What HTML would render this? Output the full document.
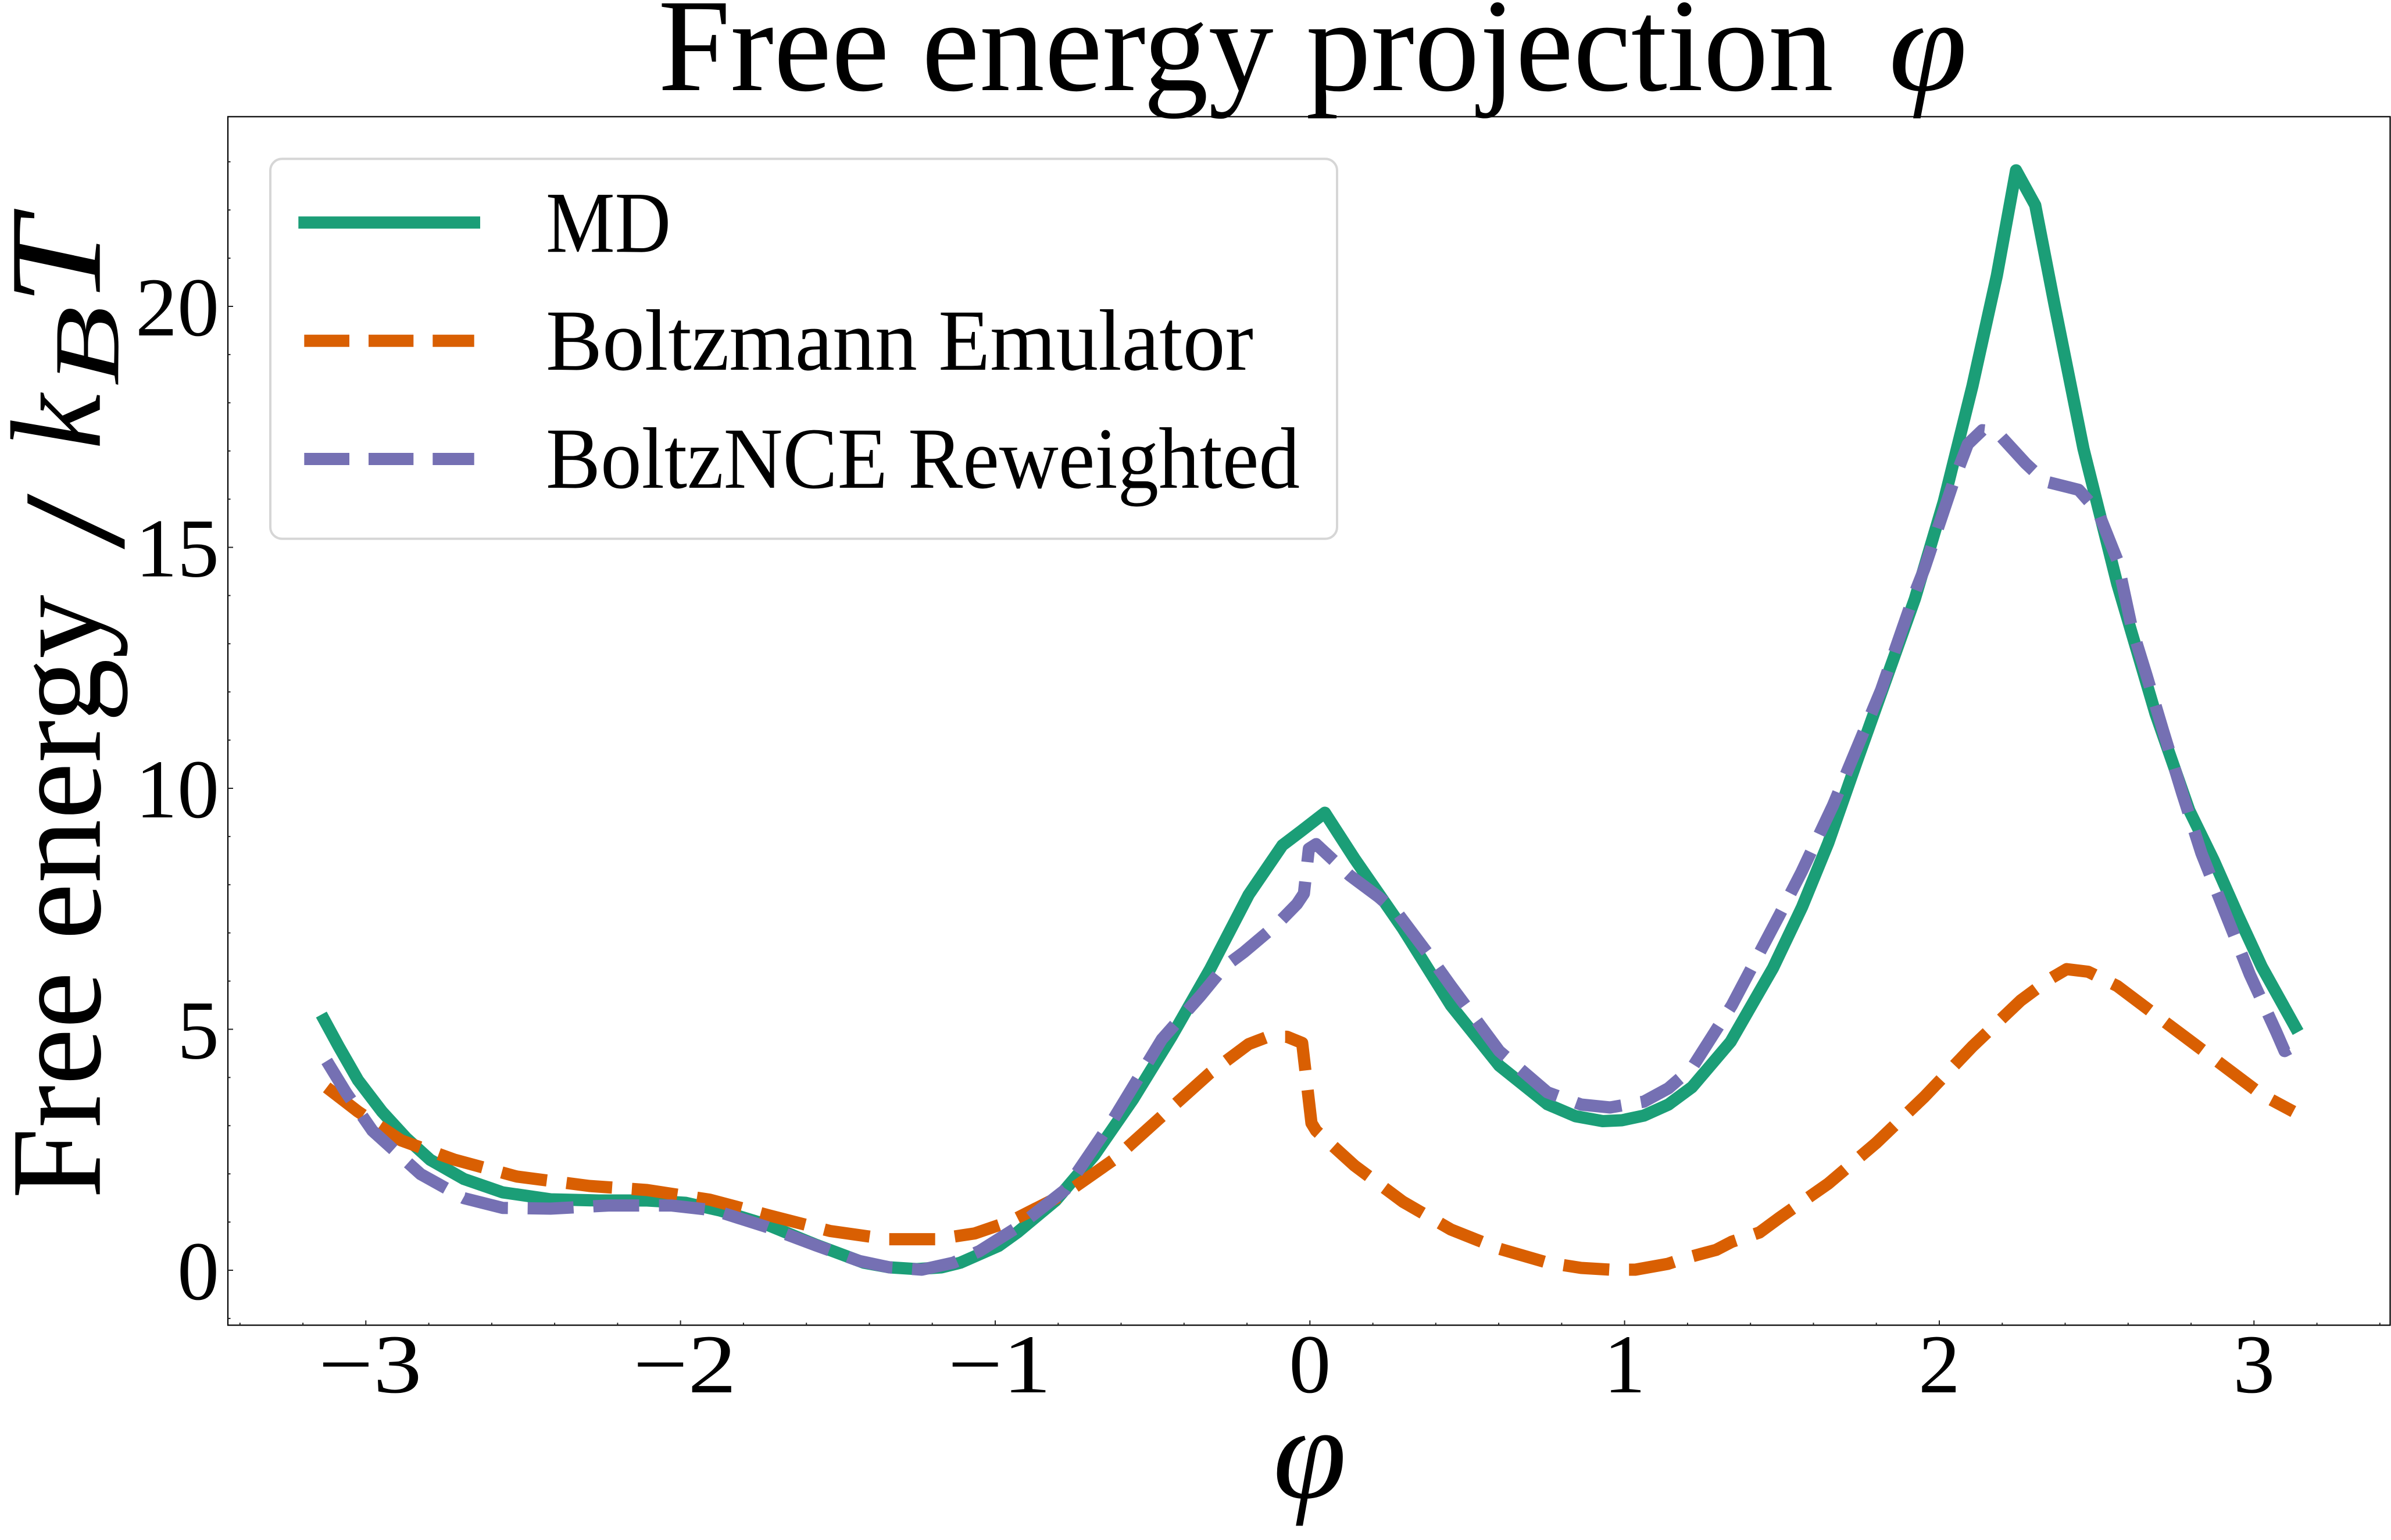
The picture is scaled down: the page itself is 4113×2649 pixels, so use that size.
<!DOCTYPE html>
<html>
<head>
<meta charset="utf-8">
<style>
  html, body { margin: 0; padding: 0; background: #ffffff; }
  svg { display: block; }
  text { font-family: "Liberation Serif", serif; fill: #000000; }
</style>
</head>
<body>
<svg xmlns="http://www.w3.org/2000/svg" width="4113" height="2649" viewBox="0 0 4113 2649">
  <rect x="0" y="0" width="4113" height="2649" fill="#ffffff"/>

  <!-- Title -->
  <text x="1132" y="155" font-size="228" textLength="2022" lengthAdjust="spacingAndGlyphs">Free energy projection</text>
  <text x="3249" y="155" font-size="228" font-style="italic" textLength="135" lengthAdjust="spacingAndGlyphs">φ</text>

  <defs>
    <clipPath id="axclip">
      <rect x="392" y="200.7" width="3720" height="2078.8"/>
    </clipPath>
  </defs>

  <!-- Curves -->
  <g clip-path="url(#axclip)" fill="none" stroke-linejoin="round">
    <!-- MD (green solid) -->
    <path stroke="#1b9e77" stroke-width="21" stroke-linecap="square"
      d="M557.8,1754.4 L582.6,1800 L615.8,1858 L657,1912 L698.7,1957.5 L740,1995 L798,2028 L864.5,2051 L947.4,2063 L1030,2065 L1113,2065 L1179.5,2069 L1237.6,2082 L1320.5,2107 L1403,2141 L1486,2172 L1530,2180 L1577,2183 L1620,2180 L1652,2172 L1718,2143 L1750,2120 L1816,2065 L1882.6,1987 L1949,1891 L2015.3,1783 L2081.6,1667 L2148,1539 L2206,1454 L2239,1429 L2279,1398 L2330,1477 L2413,1597 L2496,1729.5 L2579,1833 L2662,1899.5 L2710,1920 L2757,1928.5 L2790,1927 L2827.7,1919 L2870,1900 L2910.6,1870 L2977,1792 L3050,1665 L3100,1560 L3145,1450 L3194,1310 L3244,1170 L3294,1030 L3343.6,863 L3393,664 L3435,474 L3468,293 L3501,353 L3534,523 L3584,772 L3642,1004 L3708,1228 L3766,1394 L3808,1480 L3850,1575 L3890.7,1663 L3948,1766"/>
    <!-- Boltzmann Emulator (orange dashed) -->
    <path stroke="#d95f02" stroke-width="21" stroke-linecap="butt" stroke-dasharray="79 34"
      d="M562,1870.5 L615.8,1912 L690,1961.6 L781.6,1994.8 L889,2023.8 L1013.7,2040 L1113,2047 L1221,2063.6 L1320.5,2090 L1428,2117.5 L1527.7,2131.6 L1610.6,2131.6 L1677,2121.6 L1740,2100 L1833,2052.8 L1915.8,1994.8 L1998.7,1920 L2081.6,1845.6 L2148,1796 L2181,1783.4 L2214,1783.4 L2240,1794 L2256,1932 L2264,1945 L2330,2005 L2413,2067 L2496,2115 L2579,2148 L2662,2172 L2720,2181 L2769.7,2184 L2813,2184 L2869,2174 L2896,2165 L2952,2150 L2979,2136 L3026.7,2120 L3062,2094 L3145,2036 L3227.5,1966 L3310,1887 L3393,1800 L3476,1721 L3526,1684 L3555,1667 L3592,1671.5 L3642,1696 L3725,1758.5 L3808,1820.7 L3890.7,1883 L3945,1912"/>
    <!-- BoltzNCE Reweighted (purple dashed) -->
    <path stroke="#7570b3" stroke-width="21" stroke-linecap="butt" stroke-dasharray="79 34"
      d="M562,1825 L595,1879 L640.7,1945 L723.6,2019.7 L798,2061 L864.5,2077.7 L947,2079 L1047,2073.6 L1154.6,2073.6 L1229,2082 L1320.5,2111 L1403,2142 L1478,2169 L1530,2180 L1585.7,2184 L1640,2172 L1685,2152 L1750,2111 L1833,2046 L1915.8,1924 L1998.7,1787.6 L2065,1713 L2106,1663 L2139.6,1638 L2197.7,1589 L2231,1555 L2243,1537 L2251.5,1460 L2264,1452 L2322,1506 L2371.7,1543 L2405,1572 L2454.6,1638 L2496,1696 L2579,1808 L2662,1879 L2720,1900 L2769.7,1905 L2827.7,1895 L2870,1872 L2910.6,1837 L2979,1729.5 L3062,1572 L3099,1500 L3153,1385.5 L3236,1186.5 L3293.8,1020 L3310,979 L3360,830 L3385,764 L3410,740 L3435,743 L3484.5,797 L3517.6,828 L3575.7,842.5 L3609,880 L3642,962.7 L3667,1079 L3692,1160 L3721,1257 L3754,1365 L3787,1468 L3828.5,1572 L3870,1676 L3915.6,1775 L3930,1808 L3947,1799"/>
  </g>

  <!-- Axes spines -->
  <rect x="392" y="200.7" width="3719.5" height="2078.8" fill="none" stroke="#000000" stroke-width="2.2"/>

  <!-- Y ticks -->
  <g stroke="#222222" stroke-width="2">
    <!-- major -->
    <line x1="392" y1="2185" x2="401" y2="2185"/>
    <line x1="392" y1="1770.5" x2="401" y2="1770.5"/>
    <line x1="392" y1="1356" x2="401" y2="1356"/>
    <line x1="392" y1="941.5" x2="401" y2="941.5"/>
    <line x1="392" y1="527" x2="401" y2="527"/>
    <!-- minor -->
    <line x1="392" y1="2267.9" x2="396.5" y2="2267.9"/>
    <line x1="392" y1="2102.1" x2="396.5" y2="2102.1"/>
    <line x1="392" y1="2019.2" x2="396.5" y2="2019.2"/>
    <line x1="392" y1="1936.3" x2="396.5" y2="1936.3"/>
    <line x1="392" y1="1853.4" x2="396.5" y2="1853.4"/>
    <line x1="392" y1="1687.6" x2="396.5" y2="1687.6"/>
    <line x1="392" y1="1604.7" x2="396.5" y2="1604.7"/>
    <line x1="392" y1="1521.8" x2="396.5" y2="1521.8"/>
    <line x1="392" y1="1438.9" x2="396.5" y2="1438.9"/>
    <line x1="392" y1="1273.1" x2="396.5" y2="1273.1"/>
    <line x1="392" y1="1190.2" x2="396.5" y2="1190.2"/>
    <line x1="392" y1="1107.3" x2="396.5" y2="1107.3"/>
    <line x1="392" y1="1024.4" x2="396.5" y2="1024.4"/>
    <line x1="392" y1="858.6" x2="396.5" y2="858.6"/>
    <line x1="392" y1="775.7" x2="396.5" y2="775.7"/>
    <line x1="392" y1="692.8" x2="396.5" y2="692.8"/>
    <line x1="392" y1="609.9" x2="396.5" y2="609.9"/>
    <line x1="392" y1="444.1" x2="396.5" y2="444.1"/>
    <line x1="392" y1="361.2" x2="396.5" y2="361.2"/>
    <line x1="392" y1="278.3" x2="396.5" y2="278.3"/>
  </g>

  <!-- X ticks -->
  <g stroke="#222222" stroke-width="2">
    <!-- major -->
    <line x1="629.3" y1="2279.5" x2="629.3" y2="2271.3"/>
    <line x1="1170.6" y1="2279.5" x2="1170.6" y2="2271.3"/>
    <line x1="1712" y1="2279.5" x2="1712" y2="2271.3"/>
    <line x1="2253.3" y1="2279.5" x2="2253.3" y2="2271.3"/>
    <line x1="2794.6" y1="2279.5" x2="2794.6" y2="2271.3"/>
    <line x1="3336" y1="2279.5" x2="3336" y2="2271.3"/>
    <line x1="3877.3" y1="2279.5" x2="3877.3" y2="2271.3"/>
    <!-- minor -->
    <line x1="412.8" y1="2279.5" x2="412.8" y2="2275.3"/>
    <line x1="521.1" y1="2279.5" x2="521.1" y2="2275.3"/>
    <line x1="737.6" y1="2279.5" x2="737.6" y2="2275.3"/>
    <line x1="845.9" y1="2279.5" x2="845.9" y2="2275.3"/>
    <line x1="954.1" y1="2279.5" x2="954.1" y2="2275.3"/>
    <line x1="1062.4" y1="2279.5" x2="1062.4" y2="2275.3"/>
    <line x1="1278.9" y1="2279.5" x2="1278.9" y2="2275.3"/>
    <line x1="1387.2" y1="2279.5" x2="1387.2" y2="2275.3"/>
    <line x1="1495.5" y1="2279.5" x2="1495.5" y2="2275.3"/>
    <line x1="1603.7" y1="2279.5" x2="1603.7" y2="2275.3"/>
    <line x1="1820.3" y1="2279.5" x2="1820.3" y2="2275.3"/>
    <line x1="1928.5" y1="2279.5" x2="1928.5" y2="2275.3"/>
    <line x1="2036.8" y1="2279.5" x2="2036.8" y2="2275.3"/>
    <line x1="2145.1" y1="2279.5" x2="2145.1" y2="2275.3"/>
    <line x1="2361.6" y1="2279.5" x2="2361.6" y2="2275.3"/>
    <line x1="2469.8" y1="2279.5" x2="2469.8" y2="2275.3"/>
    <line x1="2578.1" y1="2279.5" x2="2578.1" y2="2275.3"/>
    <line x1="2686.4" y1="2279.5" x2="2686.4" y2="2275.3"/>
    <line x1="2902.9" y1="2279.5" x2="2902.9" y2="2275.3"/>
    <line x1="3011.2" y1="2279.5" x2="3011.2" y2="2275.3"/>
    <line x1="3119.5" y1="2279.5" x2="3119.5" y2="2275.3"/>
    <line x1="3227.7" y1="2279.5" x2="3227.7" y2="2275.3"/>
    <line x1="3444.3" y1="2279.5" x2="3444.3" y2="2275.3"/>
    <line x1="3552.5" y1="2279.5" x2="3552.5" y2="2275.3"/>
    <line x1="3660.8" y1="2279.5" x2="3660.8" y2="2275.3"/>
    <line x1="3769.1" y1="2279.5" x2="3769.1" y2="2275.3"/>
    <line x1="3985.6" y1="2279.5" x2="3985.6" y2="2275.3"/>
    <line x1="4093.8" y1="2279.5" x2="4093.8" y2="2275.3"/>
  </g>

  <!-- Y tick labels -->
  <g font-size="144" text-anchor="end">
    <text x="377" y="2235">0</text>
    <text x="377" y="1820.5">5</text>
    <text x="377" y="1406">10</text>
    <text x="377" y="991.5">15</text>
    <text x="377" y="577">20</text>
  </g>

  <!-- X tick labels -->
  <g font-size="144">
    <text x="547.7" y="2395" textLength="178" lengthAdjust="spacingAndGlyphs">−3</text>
    <text x="1089" y="2395" textLength="178" lengthAdjust="spacingAndGlyphs">−2</text>
    <text x="1630.4" y="2395" textLength="178" lengthAdjust="spacingAndGlyphs">−1</text>
    <text x="2253.3" y="2395" text-anchor="middle">0</text>
    <text x="2794.6" y="2395" text-anchor="middle">1</text>
    <text x="3336" y="2395" text-anchor="middle">2</text>
    <text x="3877.3" y="2395" text-anchor="middle">3</text>
  </g>

  <!-- X label -->
  <text x="2253" y="2576" font-size="228" font-style="italic" text-anchor="middle">φ</text>

  <!-- Y label (rotated) -->
  <g transform="rotate(-90)">
    <text x="-2062" y="171.7" font-size="222" textLength="1039" lengthAdjust="spacingAndGlyphs">Free energy</text>
    <text x="-945" y="212" font-size="250" textLength="96" lengthAdjust="spacingAndGlyphs">/</text>
    <text x="-773" y="171.7" font-size="222" font-style="italic" textLength="95" lengthAdjust="spacingAndGlyphs">k</text>
    <text x="-664" y="203.3" font-size="160" font-style="italic" textLength="138" lengthAdjust="spacingAndGlyphs">B</text>
    <text x="-526" y="171.7" font-size="225" font-style="italic" textLength="151" lengthAdjust="spacingAndGlyphs">T</text>
  </g>

  <!-- Legend -->
  <rect x="465" y="273.3" width="1835" height="653.4" rx="20" ry="20" fill="#ffffff" fill-opacity="0.9" stroke="#d6d6d6" stroke-width="4"/>
  <rect x="513.3" y="372.3" width="312.7" height="21" fill="#1b9e77"/>
  <g fill="#d95f02">
    <rect x="523.3" y="575.7" width="77.7" height="21"/>
    <rect x="634" y="575.7" width="77.3" height="21"/>
    <rect x="744.3" y="575.7" width="71.4" height="21"/>
  </g>
  <g fill="#7570b3">
    <rect x="523.3" y="779" width="77.7" height="21"/>
    <rect x="634" y="779" width="77.3" height="21"/>
    <rect x="744.3" y="779" width="71.4" height="21"/>
  </g>
  <g font-size="150">
    <text x="939" y="433.3" textLength="215" lengthAdjust="spacingAndGlyphs">MD</text>
    <text x="939" y="636" textLength="1217" lengthAdjust="spacingAndGlyphs">Boltzmann Emulator</text>
    <text x="939" y="839" textLength="1297" lengthAdjust="spacingAndGlyphs">BoltzNCE Reweighted</text>
  </g>
</svg>
</body>
</html>
